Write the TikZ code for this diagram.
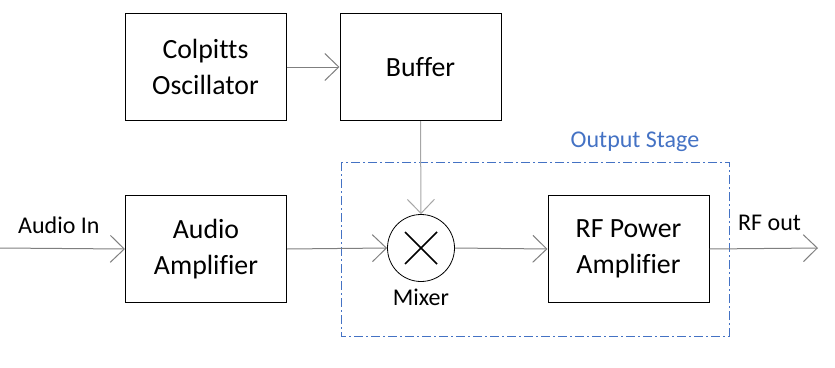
\documentclass[tikz,border=0pt]{standalone}
\usepackage{fontspec}
\setmainfont{Carlito}[Ligatures={NoCommon}]
\usetikzlibrary{arrows.meta,calc}
\definecolor{wire}{HTML}{7F7F7F}
\definecolor{wirelight}{HTML}{A6A6A6}
\definecolor{stageblue}{HTML}{4472C4}
\begin{document}
\begin{tikzpicture}[x=1pt,y=-1pt,
  block/.style={draw=black,line width=1pt,fill=white,minimum width=161pt,minimum height=107pt,
    inner sep=0pt,align=center,font=\fontsize{27.8}{36.5}\selectfont},
  lbl/.style={inner sep=0pt,anchor=base,font=\fontsize{24}{28}\selectfont},
  sig/.style={draw=wire,line width=1pt,-{Straight Barb[length=14pt,width=27pt,line width=1pt]}},
]
\useasboundingbox (0,0) rectangle (835,367);
% output stage frame
\draw[stageblue,line width=1pt,dash pattern=on 9pt off 3pt on 2pt off 3pt] (341,162) rectangle (729,336);
\node[lbl,text=stageblue] (stage) at (635,147) {Output Stage};
% blocks
\node[block] (osc) at (205.5,67) {Colpitts\\Oscillator};
\node[block] (buf) at (420.5,67) {Buffer};
\node[block] (aamp) at (206,249) {Audio\\Amplifier};
\node[block] (rfamp) at (628.5,249) {RF Power\\Amplifier};
% mixer
\node[draw=black,line width=0.8pt,circle,minimum size=67pt,inner sep=0pt] (mix) at (421,248) {};
\draw[black,line width=1.6pt] ($(mix.center)+(-16,-16)$) -- ($(mix.center)+(16,16)$)
  ($(mix.center)+(-16,16)$) -- ($(mix.center)+(16,-16)$);
\node[lbl] (mixlbl) at (421,305) {Mixer};
% terminals
\coordinate (ain) at (0,248);
\coordinate (rfo) at (818,248);
\node[lbl,anchor=base west] (ainlbl) at (18,233) {Audio In};
\node[lbl,anchor=base west] (rfolbl) at (738,230) {RF out};
% connectors
\draw[sig] (ain) -- (aamp.west);
\draw[sig] (osc.east) -- (buf.west);
\draw[sig] (aamp.east) -- (mix.west);
\draw[sig,draw=wirelight] (buf.south) -- (mix.north);
\draw[sig] (mix.east) -- (rfamp.west);
\draw[sig] (rfamp.east) -- (rfo);
\end{tikzpicture}
\end{document}
